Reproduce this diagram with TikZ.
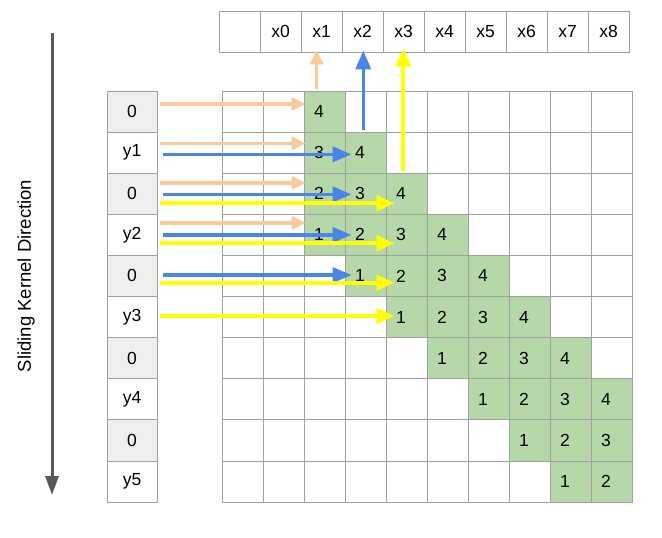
\documentclass[tikz,border=0pt]{standalone}
\usepackage{fontspec}
\setmainfont{Liberation Sans}
\usetikzlibrary{arrows.meta}
\definecolor{kerngreen}{HTML}{B6D7A8}
\definecolor{padgray}{HTML}{EFEFEF}
\definecolor{gridgray}{HTML}{A0A0A0}
\definecolor{peach}{HTML}{F9CB9C}
\definecolor{cornblue}{HTML}{4A86E8}
\definecolor{brightyellow}{HTML}{FFFF00}
\definecolor{dirgray}{HTML}{595959}
\tikzset{
    cell/.style={draw=gridgray, line width=0.8pt, fill=white, minimum height=41.1pt, inner ysep=0pt, inner xsep=9.5pt, text width=22pt, align=left},
    kern/.style={fill=kerngreen},
    hcell/.style={draw=gridgray, line width=0.8pt, minimum width=41pt, minimum height=41pt, inner sep=0pt},
    lcell/.style={draw=gridgray, line width=0.8pt, minimum width=50pt, minimum height=41.1pt, inner sep=0pt},
    peacharr/.style={draw=peach, line width=3.5pt, -{Triangle[length=14pt,width=13pt]}},
    bluearr/.style={draw=cornblue, line width=3.5pt, -{Triangle[length=19pt,width=15pt]}},
    yellowarr/.style={draw=brightyellow, line width=4pt, -{Triangle[length=18pt,width=15pt]}},
    dirarr/.style={draw=dirgray, line width=3pt, -{Triangle[length=19pt,width=13pt]}}
}
\begin{document}
\begin{tikzpicture}[x=1pt, y=-1pt, font=\fontsize{17.5pt}{21pt}\selectfont]
        \useasboundingbox (0,0) rectangle (662,538);
        % header x0..x8
        \foreach \k in {0,...,9} {
            \pgfmathtruncatemacro\xi{\k-1}
            \node[hcell] at (239.5+41*\k,31.5) (h\k) {\ifnum\k>0 x\xi\fi};
        }
        % input column
        \foreach \t [count=\r from 0] in {0,y1,0,y2,0,y3,0,y4,0,y5} {
            \ifodd\r
                \node[lcell, fill=white] at (132,111.55+41.1*\r) (L\r) {\t};
            \else
                \node[lcell, fill=padgray] at (132,111.55+41.1*\r) (L\r) {\t};
            \fi
        }
        % kernel grid
        \foreach \r in {0,...,9} {
            \foreach \c in {0,...,9} {
                \pgfmathtruncatemacro\v{\c-\r+2}
                \pgfmathtruncatemacro\ink{and(and(\v>0,\v<5),\c>1)}
                \ifnum\ink=1
                    \node[cell, kern] at (243+41*\c,111.55+41.1*\r) (g-\r-\c) {\v};
                \else
                    \node[cell] at (243+41*\c,111.55+41.1*\r) (g-\r-\c) {};
                \fi
            }
        }
        % arrows into the kernel
        \foreach \r/\dy in {0/7.5,1/9.3,2/11,3/12}
            \draw[peacharr] ([xshift=3pt,yshift=\dy pt]L\r.east) -- ([xshift=1.5pt,yshift=\dy pt]g-\r-2.west);
        \foreach \r/\dy in {1/-1.7,2/-0.6,3/0,4/0.9}
            \draw[bluearr] ([xshift=5.7pt,yshift=\dy pt]L\r.east) -- ([xshift=6.5pt,yshift=\dy pt]g-\r-3.west);
        \foreach \r/\dy in {2/-9.6,3/-8.5,4/-6.8,5/1}
            \draw[yellowarr] ([xshift=3pt,yshift=\dy pt]L\r.east) -- ([xshift=8.5pt,yshift=\dy pt]g-\r-4.west);
        % arrows out to x1..x3
        \coordinate (pout) at ([xshift=-8.3pt,yshift=2pt]g-0-2.north);
        \coordinate (bout) at ([xshift=-2.7pt,yshift=3pt]g-0-3.south);
        \coordinate (yout) at ([xshift=-3.7pt,yshift=3pt]g-1-4.south);
        \draw[peacharr] (pout) -- ([yshift=2pt]pout |- h2.south);
        \draw[bluearr] (bout) -- ([yshift=2pt]bout |- h3.south);
        \draw[yellowarr] (yout) -- ([yshift=4pt]yout |- h4.south);
        % direction
        \coordinate (dirtop) at (52,33);
        \coordinate (dirbot) at (52,495);
        \draw[dirarr] (dirtop) -- (dirbot);
        \node[rotate=90, font=\fontsize{18.5pt}{22pt}\selectfont] at (26,276) (dirlabel) {Sliding Kernel Direction};
    \end{tikzpicture}
\end{document}
